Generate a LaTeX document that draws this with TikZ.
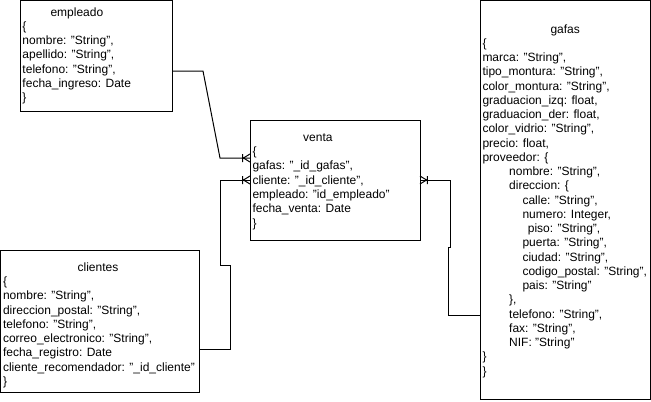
\documentclass[tikz,border=0pt]{standalone}
\usepackage{fontspec}
\setmainfont{Liberation Sans}
\usetikzlibrary{positioning,decorations.markings}
\tikzstyle{entity} = [rectangle, draw, anchor=north west, inner sep=0pt, outer sep=0pt]
\tikzstyle{fields} = [anchor=west, align=left, inner sep=0pt, font=\fontsize{9}{10.69}\selectfont]
\tikzstyle{crowfoot} = [postaction={decorate, decoration={markings, mark=at position 1 with {
    \draw (-4.9pt,0) -- (0,3pt) (-4.9pt,0) -- (0,-3pt) (-5.6pt,3pt) -- (-5.6pt,-3pt);}}}]
\tikzstyle{relation} = [draw, crowfoot]
\newcommand{\indA}{\hspace*{20pt}}
\newcommand{\indB}{\hspace*{30pt}}
\newcommand{\indC}{\hspace*{34pt}}

\begin{document}
\begin{tikzpicture}[x=0.75pt,y=-0.75pt,line width=0.75pt]
    \useasboundingbox (0,0) rectangle (651,401);

    % boxes
    \node (empleado) [entity, minimum width=114pt, minimum height=82.9pt] at (20,0.5) {};
    \node (venta)    [entity, minimum width=127.5pt, minimum height=90pt] at (250,120) {};
    \node (clientes) [entity, minimum width=149.6pt, minimum height=106.5pt] at (0.5,250) {};
    \node (gafas)    [entity, minimum width=127.5pt, minimum height=299.6pt] at (480,0.5) {};

    % texts
    \node (empleadotxt) [fields] at ([xshift=1.5pt]empleado.west) {\hspace*{21pt}empleado\\
        \{\\
        nombre: "String",\\
        apellido: "String",\\
        telefono: "String",\\
        fecha\_ingreso: Date\\
        \}};

    \node (ventatxt) [fields] at ([xshift=1.5pt, yshift=-1.2pt]venta.west) {\hspace*{38pt}venta\\
        \{\\
        gafas: "\_id\_gafas",\\
        cliente: "\_id\_cliente",\\
        empleado: "id\_empleado"\\
        fecha\_venta: Date\\
        \}};

    \node (clientestxt) [fields] at ([xshift=1.5pt, yshift=-3.2pt]clientes.west) {\hspace*{56pt}clientes\\
        \{\\
        nombre: "String",\\
        direccion\_postal: "String",\\
        telefono: "String",\\
        correo\_electronico: "String",\\
        fecha\_registro: Date\\
        cliente\_recomendador: "\_id\_cliente"\\
        \}};

    \node (gafastxt) [fields] at ([xshift=1.5pt, yshift=-0.6pt]gafas.west) {\hspace*{51pt}gafas\\
        \{\\
        marca: "String",\\
        tipo\_montura: "String",\\
        color\_montura: "String",\\
        graduacion\_izq: float,\\
        graduacion\_der: float,\\
        color\_vidrio: "String",\\
        precio: float,\\
        proveedor: \{\\
        \indA nombre: "String",\\
        \indA direccion: \{\\
        \indB calle: "String",\\
        \indB numero: Integer,\\
        \indC piso: "String",\\
        \indB puerta: "String",\\
        \indB ciudad: "String",\\
        \indB codigo\_postal: "String",\\
        \indB pais: "String"\\
        \indA \},\\
        \indA telefono: "String",\\
        \indA fax: "String",\\
        \indA NIF: "String"\\
        \}\\
        \}};

    % relations
    \path [relation] (empleado.east |- 0,71) -- ++(31,0) -- ++(17,87) -- (venta.west |- 0,158);
    \path [relation] (clientes.east |- 0,349) -| ++(31,-84) -- ++(-10,0) |- (venta.west |- 0,180);
    \path [relation] (gafas.west |- 0,315) -| ++(-32,-68) -- ++(2,0) |- (venta.east |- 0,180);

\end{tikzpicture}
\end{document}
